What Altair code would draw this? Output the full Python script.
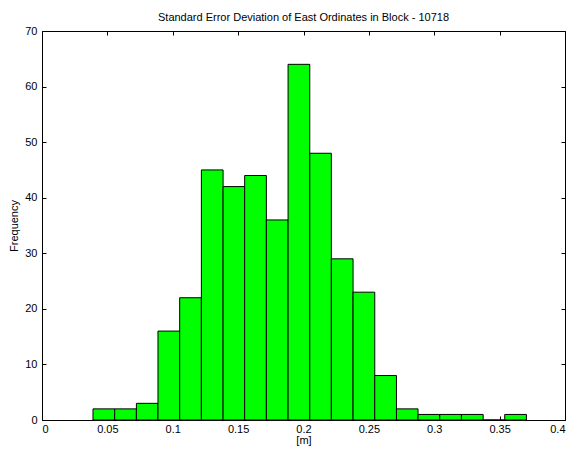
import altair as alt
import pandas as pd

# Histogram bin edges (20 bins) and counts
bin_edges = [0.0390, 0.0556, 0.0722, 0.0887, 0.1053, 0.1219, 0.1385, 0.1550,
             0.1716, 0.1882, 0.2048, 0.2213, 0.2379, 0.2545, 0.2711, 0.2876,
             0.3042, 0.3208, 0.3374, 0.3539, 0.3705]
counts = [2, 2, 3, 16, 22, 45, 42, 44, 36, 64, 48, 29, 23, 8, 2, 1, 1, 1, 0, 1]
x_ticks = [0, 0.05, 0.1, 0.15, 0.2, 0.25, 0.3, 0.35, 0.4]
y_ticks = [0, 10, 20, 30, 40, 50, 60, 70]

df = pd.DataFrame({"lo": bin_edges[:-1], "hi": bin_edges[1:], "count": counts})

FONT = "Liberation Sans"
xscale = alt.Scale(domain=[0, 0.4], nice=False, zero=False)
yscale = alt.Scale(domain=[0, 70], nice=False)

common_axis = dict(offset=-4, tickSize=4, domain=False, grid=False,
                   tickColor="black", tickWidth=1,
                   labelFont=FONT, labelFontSize=11, labelColor="black",
                   titleFont=FONT, titleFontSize=11, titleFontWeight="normal",
                   titleColor="black")

bars = alt.Chart(df).mark_rect(fill="#00ff00", stroke="black", strokeWidth=1).encode(
    x=alt.X("lo:Q", scale=xscale,
            axis=alt.Axis(orient="bottom", values=x_ticks, format=".2~f", title="[m]",
                          labelPadding=3, titlePadding=0, **common_axis)),
    x2="hi:Q",
    y=alt.Y("count:Q", scale=yscale,
            axis=alt.Axis(orient="left", values=y_ticks, title="Frequency",
                          labelPadding=5, titlePadding=5, **common_axis)),
    y2=alt.datum(0),
)

mirror = alt.Chart(df).mark_point(opacity=0).encode(
    x=alt.X("lo:Q", scale=xscale,
            axis=alt.Axis(orient="top", values=x_ticks, labels=False, title=None, **common_axis)),
    y=alt.Y("count:Q", scale=yscale,
            axis=alt.Axis(orient="right", values=y_ticks, labels=False, title=None, **common_axis)),
)

chart = alt.layer(bars, mirror).resolve_axis(x="independent", y="independent").properties(
    width=523, height=389,
    background="white",
    title=alt.TitleParams("Standard Error Deviation of East Ordinates in Block - 10718",
                          font=FONT, fontSize=11, fontWeight="normal", color="black",
                          offset=2, anchor="middle"),
    autosize=alt.AutoSizeParams(type="none"),
    padding={"left": 34, "top": 23, "right": 1, "bottom": 27},
).configure_view(stroke="black", strokeWidth=1)

chart.save("out.html", embed_options={"renderer": "svg", "actions": False})
